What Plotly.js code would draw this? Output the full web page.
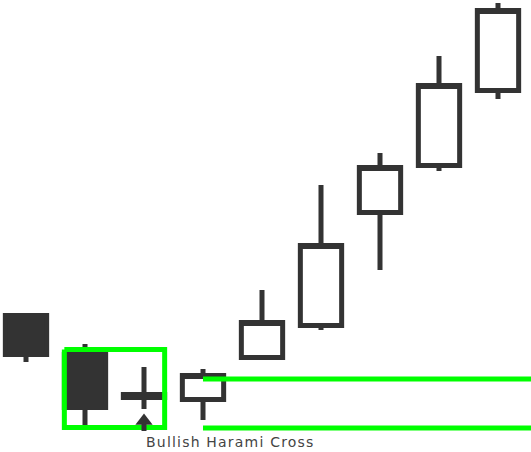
<!DOCTYPE html>
<html>
<head>
<meta charset="utf-8">
<script src="https://cdn.plot.ly/plotly-3.0.1.min.js"></script>
<style>html,body{margin:0;padding:0;background:#fff;}#chart{width:531px;height:452px;}
.annotation-text{letter-spacing:1.2px;}</style>
</head>
<body>
<div id="chart"></div>
<script>
// Candle data (arbitrary price units)
const candleX = [0, 1, 2, 3, 4, 5, 6, 7, 8];
const openV  = [13.65, 9.75, 5.75, 5.25, 9.45, 12.65, 23.95, 28.65, 36.15];
const highV  = [13.65, 10.8, 8.5, 8.3, 16.2, 26.7, 29.9, 39.6, 44.9];
const lowV   = [9.0, 2.6, 4.3, 3.2, 9.45, 12.2, 18.2, 28.1, 35.3];
const closeV = [9.75, 4.45, 5.45, 7.65, 12.95, 20.65, 28.45, 36.65, 44.15];

// Highlighted pattern (candles 1-2) box
const patternX = [0.65, 2.35, 2.35, 0.65, 0.65];
const patternY = [10.25, 10.25, 2.45, 2.45, 10.25];

// Confirmation levels (from candle 3 onward)
const levelStartX = 3.0;
const levelEndX = 9.0;
const levelY = [7.3, 2.4];

// Arrow under the doji
const arrowX = [2.0, 2.0];
const arrowY = [2.1, 2.9];

const labelText = 'Bullish Harami Cross';

const dark = '#333333';
const green = '#00ff00';

const traces = [
  {
    type: 'candlestick',
    x: candleX, open: openV, high: highV, low: lowV, close: closeV,
    increasing: {line: {color: dark, width: 5}, fillcolor: '#ffffff'},
    decreasing: {line: {color: dark, width: 5}, fillcolor: dark},
    whiskerwidth: 0,
    hoverinfo: 'skip',
    showlegend: false
  },
  {
    type: 'scatter', mode: 'lines',
    x: patternX, y: patternY,
    line: {color: green, width: 5},
    hoverinfo: 'skip', showlegend: false
  }
];
levelY.forEach(function (lv) {
  traces.push({
    type: 'scatter', mode: 'lines',
    x: [levelStartX, levelEndX], y: [lv, lv],
    line: {color: green, width: 5},
    hoverinfo: 'skip', showlegend: false
  });
});
traces.push({
  type: 'scatter', mode: 'lines',
  x: arrowX, y: arrowY,
  line: {color: dark, width: 5},
  hoverinfo: 'skip', showlegend: false
});
traces.push({
  type: 'scatter', mode: 'markers',
  x: [arrowX[1]], y: [arrowY[1] + 0.2],
  marker: {symbol: 'triangle-up', size: 15, color: dark},
  hoverinfo: 'skip', showlegend: false
});

const layout = {
  width: 531, height: 452,
  margin: {l: 0, r: 0, t: 0, b: 0},
  paper_bgcolor: '#ffffff', plot_bgcolor: '#ffffff',
  showlegend: false,
  boxgap: 0.3, boxgroupgap: 0,
  xaxis: {range: [-0.4407, 8.5593], visible: false, rangeslider: {visible: false}, fixedrange: true},
  yaxis: {range: [0, 45.2], visible: false, fixedrange: true},
  annotations: [{
    x: 2.0, y: 1.05, xref: 'x', yref: 'y', xanchor: 'left', yanchor: 'middle',
    text: labelText, showarrow: false,
    font: {family: 'DejaVu Sans', size: 14, color: '#444444'}
  }]
};

Plotly.newPlot('chart', traces, layout, {staticPlot: true, displayModeBar: false});
</script>
</body>
</html>
